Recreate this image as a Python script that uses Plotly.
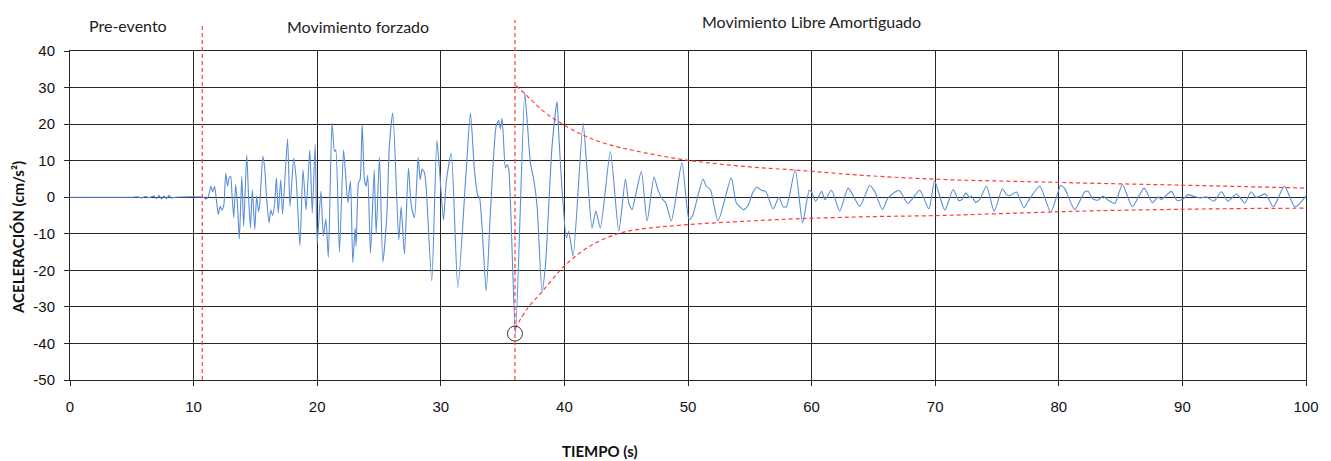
import plotly.graph_objects as go

# ---- data ----
time_s = [0.0, 5.0, 5.5, 5.8, 6.1, 6.4, 6.8, 7.0, 7.2, 7.4, 7.6, 7.8, 8.0, 8.2, 8.5, 10.8, 11.0, 11.2,
          11.4, 11.55, 11.7, 11.85, 12.0, 12.15, 12.3, 12.45, 12.6, 12.75, 12.85, 13.0, 13.1, 13.25, 13.4,
          13.55, 13.7, 13.9, 14.05, 14.3, 14.45, 14.6, 14.75, 14.95, 15.1, 15.25, 15.35, 15.6, 15.75, 15.9,
          16.1, 16.25, 16.4, 16.55, 16.7, 16.85, 17.05, 17.2, 17.6, 17.8, 18.1, 18.3, 18.6, 18.85, 19.1,
          19.4, 19.6, 19.84, 20.0, 20.3, 20.5, 20.7, 20.9, 21.2, 21.4, 21.5, 21.8, 22.13, 22.29, 22.48,
          22.69, 22.88, 23.07, 23.15, 23.34, 23.47, 23.64, 23.82, 23.96, 24.09, 24.31, 24.61, 24.77, 25.04,
          25.31, 25.63, 25.85, 26.12, 26.6, 26.79, 27.06, 27.38, 27.6, 27.87, 28.17, 28.33, 28.49, 28.68,
          28.81, 29.27, 29.68, 29.89, 30.22, 30.43, 30.84, 31.38, 32.05, 32.4, 32.72, 32.99, 33.13, 33.67,
          34.0, 34.48, 34.69, 34.82, 34.96, 35.23, 35.36, 35.5, 36.04, 36.79, 36.98, 37.25, 37.52, 37.79,
          38.19, 38.46, 39.0, 39.41, 39.54, 39.81, 40.16, 40.35, 40.7, 41.51, 41.83, 42.24, 42.54, 42.91,
          43.72, 44.4, 44.94, 45.2, 45.47, 45.88, 46.23, 46.69, 47.25, 47.57, 47.92, 48.2, 48.65, 49.51,
          50.08, 50.35, 51.21, 51.48, 51.81, 52.43, 53.5, 53.91, 54.5, 54.85, 55.26, 55.58, 55.93, 56.28,
          56.88, 57.36, 57.69, 57.96, 58.68, 59.27, 59.81, 60.0, 60.32, 60.81, 61.08, 61.61, 62.28, 62.96,
          63.9, 64.7, 65.1, 65.73, 66.18, 66.85, 67.12, 67.8, 68.74, 69.49, 69.95, 70.78, 71.45, 71.91,
          72.18, 72.48, 72.8, 72.93, 73.28, 73.61, 74.15, 74.77, 75.44, 75.77, 76.04, 76.57, 77.17, 77.52,
          78.46, 79.35, 80.16, 80.49, 81.29, 82.1, 82.37, 82.77, 83.18, 83.58, 83.99, 84.53, 85.15, 85.95,
          86.9, 87.57, 88.03, 88.3, 89.11, 89.57, 90.05, 90.46, 90.86, 91.4, 91.94, 92.54, 93.16, 93.69,
          94.37, 95.05, 95.55, 95.95, 96.71, 97.36, 98.25, 99.11, 100.0]
accel = [0, 0, 0.1, -0.2, 0.2, -0.1, 0.3, -0.4, 0.5, -0.5, 0.4, -0.4, 0.5, -0.2, 0, 0, -0.5, 0.3,
         3, 1.5, 3, -1, -4.7, -2.5, -3.5, -2, 6.6, 3, 5, 5.7, 1, -5.6, 3.5,
         -2, -11.4, 5.7, -8, 11.6, 0, -8.4, 2, -8.8, 0.3, -4, -2, 11.2, 8, 0,
         -7, -3.5, -5, -2, 5.3, -4.3, 4.8, -4.7, 15.9, -2.5, 10.7, 5, -13.2, 7.5, -3.4,
         13, -4.3, 14.4, -12.7, 1.6, -10.6, -6, -16.4, 20.3, 12.5, 13, -15, 13, 6.6, -1.5,
         4.4, -17.9, -8.4, -13.4, 3.9, 4.8, 20, 4.8, 3, 6, -15.4, 7.4, -9.9, 10.9,
         -17.7, -5.2, 14.8, 23, -11.7, -2.6, -15.6, 8, -2, -5.6, 10.9, 4.8, 7.7, 6.7,
         3, -22.9, 15.5, 7.7, -6.3, 3.9, 12.1, -24.7, 7.1, 23, 7.5, 0.5, 0, -25.6,
         -5, 19.5, 21, 18.7, 21.6, 8, 8.9, 7.5, -37.3, 28.5, 21.3, 9.4, 4.8, -2.4,
         -25.8, -18.8, 13.9, 26.2, 17.5, 2, -11.1, -9.3, -16.1, 20.3, 7.5, -8.4, -3.8, -8.4,
         12.5, -9.3, 5, -1.5, -3.4, 2.5, 7.1, -6.5, 5.5, 2, -0.5, -1.5, -6.5, 9.4,
         -6.1, -5.2, 5, 3, 2.1, -6.5, 5.3, -1.5, -3.4, -2.3, 1.4, 2.8, 1.9, 1.6,
         -3.2, 0, -2.6, -2.6, 7.5, -7, 1.9, 1.4, -1.1, 1.6, -0.7, 1.9, -3.8, 2.5,
         -2.5, 3.2, 1.6, -3.4, -0.2, 1.6, 1.8, -1.7, 1.9, -3.2, 4.4, -3.5, 2.1, -0.9,
         -0.6, 1.2, -0.2, 0.3, -1.4, -0.6, 3, -3.8, 2.3, 0.7, 0.4, 1.4, -2.9, -1.1,
         3, -4.1, 3.2, 2.3, -3.4, 1.5, 1.6, -0.5, -0.8, 0.3, -0.8, -1.7, 3.5, -2.6,
         2.5, -1.5, 0.1, -0.6, 1.6, -0.9, -0.5, 0.7, 0.3, -0.2, 0.1, -1.1, 1.5, -1.1,
         0.9, -1.6, 1.5, 0, 0.9, -2.6, 3, -2.7, 0.3]

env_up_t = [36.1, 36.8, 37.5, 38.5, 39.7, 41.5, 43.5, 46, 50, 55, 58.8, 65, 71, 77, 83, 90, 95, 100]
env_up = [30.5, 28.3, 26, 23, 20.3, 17, 14.5, 12.5, 10.1, 8.3, 7.4, 5.8, 4.8, 4.3, 3.8, 3.3, 2.9, 2.5]
env_lo_t = [36.0, 37.0, 38.2, 40, 42, 44.3, 46, 50, 55, 58.8, 65, 70.4, 77, 83, 90, 95, 100]
env_lo = [-36, -30.5, -25.8, -18.8, -13.5, -10, -8.8, -7.5, -6.5, -5.9, -5.3, -5, -4.3, -3.7, -3.3, -3.1, -3.0]

peak_t = [36.0]
peak_a = [-37.3]

phase_bounds = [10.7, 36.0]
phase_tops = [1.079, 1.094]
phase_labels = ["Pre-evento", "Movimiento forzado", "Movimiento Libre Amortiguado"]
phase_label_x = [4.7, 23.3, 60.0]
phase_label_y = [1.079, 1.073, 1.091]

x_ticks = list(range(0, 101, 10))
y_ticks = list(range(-50, 41, 10))

RED = "#FF3B3B"
BLUE = "#5A8ED6"
GRID = "#262626"

L, R, T, B = 70, 25, 51, 81
W, H = 1331, 461
pw, ph = W - L - R, H - T - B

fig = go.Figure()
fig.add_trace(go.Scatter(x=time_s, y=accel, mode="lines",
                         line=dict(color=BLUE, width=1.1, shape="spline", smoothing=0.6),
                         showlegend=False))
fig.add_trace(go.Scatter(x=env_up_t, y=env_up, mode="lines",
                         line=dict(color=RED, width=1.2, dash="4px,3px", shape="spline"), showlegend=False))
fig.add_trace(go.Scatter(x=env_lo_t, y=env_lo, mode="lines",
                         line=dict(color=RED, width=1.2, dash="4px,3px", shape="spline"), showlegend=False))
fig.add_trace(go.Scatter(x=peak_t, y=peak_a, mode="markers",
                         marker=dict(symbol="circle-open", size=15, color="#333333", line=dict(width=1)),
                         showlegend=False))

for xb, top in zip(phase_bounds, phase_tops):
    fig.add_shape(type="line", xref="x", yref="paper", x0=xb, x1=xb, y0=0, y1=top,
                  line=dict(color=RED, width=1.2, dash="4px,3px"))

for lab, lx, ly in zip(phase_labels, phase_label_x, phase_label_y):
    fig.add_annotation(text=lab, x=lx, y=ly, xref="x", yref="paper", showarrow=False,
                       font=dict(family="Lato, Open Sans, sans-serif", size=16, color="#222222"),
                       xanchor="center", yanchor="middle")

fig.add_annotation(text="<b>ACELERACIÓN (cm/s²)</b>",
                   x=(18 - L) / pw, y=(H - B - 238) / ph, xref="paper", yref="paper",
                   xanchor="center", yanchor="middle", showarrow=False, textangle=-90,
                   font=dict(family="Lato, Open Sans, sans-serif", size=15, color="#111111"))
fig.add_annotation(text="<b>TIEMPO (s)</b>",
                   x=(600 - L) / pw, y=(H - B - 451) / ph, xref="paper", yref="paper",
                   xanchor="center", yanchor="middle", showarrow=False,
                   font=dict(family="Lato, Open Sans, sans-serif", size=15, color="#111111"))

fig.update_layout(
    width=W, height=H,
    margin=dict(l=L, r=R, t=T, b=B),
    paper_bgcolor="white", plot_bgcolor="white",
    font=dict(family="Liberation Sans, Arial, sans-serif", size=15, color="#111111"),
)
fig.update_xaxes(range=[0, 100], tickvals=x_ticks, ticktext=[str(v) for v in x_ticks],
                 showgrid=True, gridcolor=GRID, gridwidth=1, zeroline=False,
                 showline=True, linecolor=GRID, linewidth=1, mirror=True,
                 ticks="outside", ticklen=5, tickcolor=GRID, ticklabelstandoff=8)
fig.update_yaxes(range=[-50, 40], tickvals=y_ticks, ticktext=[str(v) for v in y_ticks],
                 showgrid=True, gridcolor=GRID, gridwidth=1, zeroline=False,
                 showline=True, linecolor=GRID, linewidth=1, mirror=True,
                 ticks="outside", ticklen=5, tickcolor=GRID, ticklabelstandoff=6)

fig.write_html("out.html", config={"displayModeBar": False},
               post_script="document.body.style.margin='0';document.body.style.overflow='hidden';")
